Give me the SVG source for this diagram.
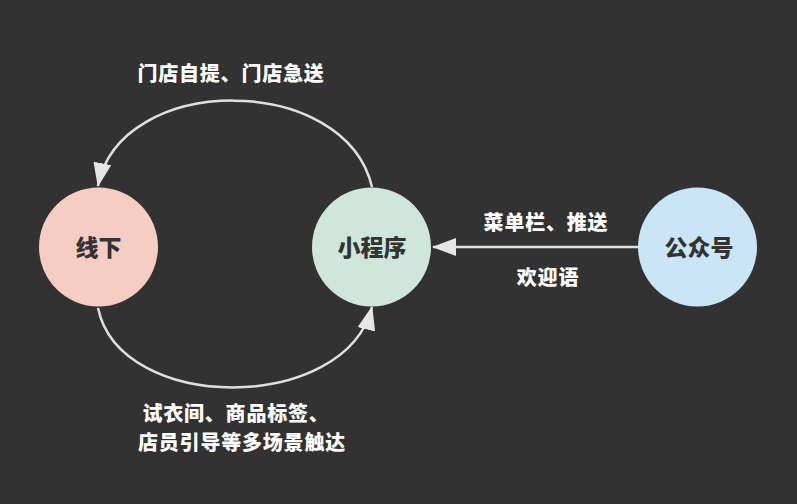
<svg xmlns="http://www.w3.org/2000/svg" width="797" height="504" viewBox="0 0 797 504">
<defs>
<style>
.node-text{font-family:"Noto Sans CJK SC","Noto Sans",sans-serif;font-weight:900;font-size:23px;fill:#333333;text-anchor:middle}
.label{font-family:"Noto Sans CJK SC","Noto Sans",sans-serif;font-weight:900;font-size:20px;fill:#ffffff;text-anchor:middle;letter-spacing:0.8px}
.edge{fill:none;stroke:#e0e0e0;stroke-width:2.5}
</style>
<marker id="arrowBig" viewBox="0 0 24 18" refX="23" refY="9" markerWidth="24" markerHeight="18" markerUnits="userSpaceOnUse" orient="auto">
<path d="M0,0 L24,9 L0,18 Z" fill="#e6e6e6"/>
</marker>
</defs>
<rect width="797" height="504" fill="#323232"/>
<g id="connectors">
<path class="edge" d="M372,187 C345,72 120,72 98,186" marker-end="url(#arrowBig)"/>
<path class="edge" d="M98,308 C120,414 345,414 372,307" marker-end="url(#arrowBig)"/>
<path class="edge" d="M639,247 L433,247" marker-end="url(#arrowBig)"/>
</g>
<g id="node-xianxia">
<circle cx="98.5" cy="247" r="59.5" fill="#f6cdc3"/>
<text class="node-text" x="98.5" y="256">线下</text>
</g>
<g id="node-xiaochengxu">
<circle cx="371.5" cy="247" r="59.5" fill="#cfe6db"/>
<text class="node-text" x="372" y="256">小程序</text>
</g>
<g id="node-gongzhonghao">
<circle cx="697.5" cy="247" r="59.5" fill="#c9e5f6"/>
<text class="node-text" x="699" y="256">公众号</text>
</g>
<g id="labels">
<text class="label" x="231" y="81">门店自提、门店急送</text>
<text class="label" x="236" y="421">试衣间、商品标签、</text>
<text class="label" x="242" y="450">店员引导等多场景触达</text>
<text class="label" x="546" y="230">菜单栏、推送</text>
<text class="label" x="548" y="285">欢迎语</text>
</g>
</svg>
